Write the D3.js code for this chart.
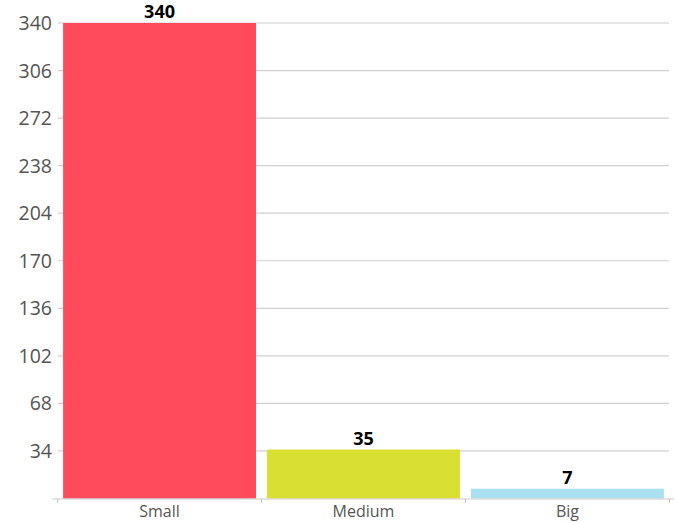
<!DOCTYPE html>
<html>
<head>
<meta charset="utf-8">
<script src="https://cdn.jsdelivr.net/npm/d3@7"></script>
<style>
  body { margin: 0; background: #fff; }
  svg { display: block; font-family: "Open Sans", "Noto Sans", sans-serif; }
</style>
</head>
<body>
<svg id="chart" width="677" height="523"></svg>
<script>
const categories = ["Small", "Medium", "Big"];
const values = [340, 35, 7];
const colors = ["#ff4b5c", "#d9e032", "#abe0f0"];
const yTicks = [34, 68, 102, 136, 170, 204, 238, 272, 306, 340];

const plotLeft = 58, plotRight = 669, plotTop = 23, plotBottom = 498.5;

const svg = d3.select("#chart");

const x = d3.scaleBand().domain(categories).range([plotLeft, plotRight])
  .paddingInner(0.054).paddingOuter(0.025);
const y = d3.scaleLinear().domain([0, 340]).range([plotBottom, plotTop]);

// gridlines
svg.append("g").selectAll("line").data(yTicks).join("line")
  .attr("x1", plotLeft).attr("x2", plotRight)
  .attr("y1", d => y(d)).attr("y2", d => y(d))
  .attr("stroke", "#d0d0d0").attr("stroke-width", 1.2);

// y labels
svg.append("g").selectAll("text").data(yTicks).join("text")
  .attr("x", 52).attr("y", d => y(d))
  .attr("dy", "0.36em")
  .attr("text-anchor", "end")
  .attr("fill", "#555")
  .attr("font-size", 19.5)
  .text(d => d);

// bars
svg.append("g").selectAll("rect").data(values).join("rect")
  .attr("x", (d, i) => x(categories[i]))
  .attr("width", x.bandwidth())
  .attr("y", d => y(d))
  .attr("height", d => plotBottom - y(d))
  .attr("fill", (d, i) => colors[i]);

// value labels
svg.append("g").selectAll("text").data(values).join("text")
  .attr("x", (d, i) => x(categories[i]) + x.bandwidth() / 2)
  .attr("y", d => y(d) - 5)
  .attr("text-anchor", "middle")
  .attr("font-weight", "bold")
  .attr("font-size", 18)
  .attr("fill", "#000")
  .text(d => d);

// x axis
const gap = x.step() * x.paddingInner() / 2;
const bounds = categories.map(c => x(c) - gap)
  .concat([x(categories[categories.length - 1]) + x.bandwidth() + gap]);
const ax = svg.append("g");
ax.append("line").attr("x1", 52).attr("x2", 674)
  .attr("y1", plotBottom + 0.5).attr("y2", plotBottom + 0.5)
  .attr("stroke", "#cccccc").attr("stroke-width", 1.2);
ax.selectAll(".tick").data(bounds).join("line")
  .attr("class", "tick")
  .attr("x1", d => d).attr("x2", d => d)
  .attr("y1", plotBottom).attr("y2", plotBottom + 4.5)
  .attr("stroke", "#cccccc").attr("stroke-width", 1.2);
ax.selectAll("text").data(categories).join("text")
  .attr("x", d => x(d) + x.bandwidth() / 2)
  .attr("y", 517)
  .attr("text-anchor", "middle")
  .attr("fill", "#555")
  .attr("font-size", 16)
  .text(d => d);
</script>
</body>
</html>
